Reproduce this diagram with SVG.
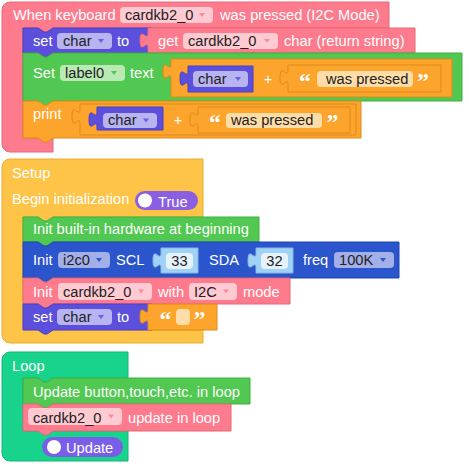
<svg xmlns="http://www.w3.org/2000/svg" width="469" height="468" viewBox="0 0 469 468">
<style>
.pk{fill:#FE7B8D;stroke:#E5687A;stroke-width:1}
.pu{fill:#5B4FDB;stroke:#4B40C2;stroke-width:1}
.gr{fill:#51C851;stroke:#40B040;stroke-width:1}
.or{fill:#FCA42B;stroke:#DE8B1C;stroke-width:1}
.ye{fill:#FEC447;stroke:#E6AC35;stroke-width:1}
.bl{fill:#2B55CC;stroke:#1F45AE;stroke-width:1}
.te{fill:#18D38B;stroke:#10B877;stroke-width:1}
.lb{fill:#A0D2F5;stroke:#86B9DD;stroke-width:1}
.t{font-family:"Liberation Sans",Arial,sans-serif;font-size:14.67px;fill:#fff}
.d{font-family:"Liberation Sans",Arial,sans-serif;font-size:14.67px;fill:#222}
.q{font-family:"Liberation Serif","Times New Roman",serif;font-size:24px;font-weight:bold;fill:#fff}
.ppk{fill:#FFCAD2}
.ppu{fill:#B8B3F1}
.pgr{fill:#B9EAB5}
.por{fill:#FFDDA8}
.pbl{fill:#A2AFE8}
.pnum{fill:#E6F3FC}
.apk{fill:#F3909F}
.apu{fill:#6A60DF}
.agr{fill:#51C851}
.abl{fill:#2B55CC}
.tog{fill:#8B5FE2}
.tog2{fill:#7B5EE8}
</style>

<!-- Event block: When keyboard ... was pressed -->
<g id="event_keyboard">
<path class="pk" d="M2,10 a8,8 0 0 1 8,-8 H389 V28 H53 l-6,4 -3,0 -6,-4 H23 V138 H53 V152 H10 a8,8 0 0 1 -8,-8 Z"/>
<text class="t" x="13" y="20">When keyboard</text>
<rect class="ppk" x="120" y="7" width="93" height="16" rx="4"/>
<text class="d" x="125" y="20">cardkb2_0</text>
<polygon class="apk" points="199,13 205,13 202,17"/>
<text class="t" x="220" y="20">was pressed (I2C Mode)</text>
</g>

<g id="set_char_1">
<path class="pu" d="M23,28 H38 l6,4 3,0 6,-4 H152 V53 H53 l-6,4 -3,0 -6,-4 H23 Z"/>
<text class="t" x="33" y="45.5">set</text>
<rect class="ppu" x="57" y="33" width="55" height="16" rx="4"/>
<text class="d" x="63" y="45.5">char</text>
<polygon class="apu" points="98,39 104,39 101,43"/>
<text class="t" x="117" y="45.5">to</text>
</g>

<g id="get_char">
<path class="pk" d="M148,28 H415 V53 H148 V48 c0,-10 -8,8 -8,-7.5 s8,2.5 8,-7.5 Z"/>
<text class="t" x="158" y="45.5">get</text>
<rect class="ppk" x="183" y="33" width="95" height="16" rx="4"/>
<text class="d" x="188" y="45.5">cardkb2_0</text>
<polygon class="apk" points="264,39 270,39 267,43"/>
<text class="t" x="284" y="45.5">char (return string)</text>
</g>

<g id="set_label_text">
<path class="gr" d="M23,53 H38 l6,4 3,0 6,-4 H462 V101 H53 l-6,4 -3,0 -6,-4 H23 Z"/>
<text class="t" x="33" y="77.5">Set</text>
<rect class="pgr" x="60" y="65" width="65" height="16" rx="4"/>
<text class="d" x="65" y="77.5">label0</text>
<polygon class="agr" points="111,71 117,71 114,75"/>
<text class="t" x="130" y="77.5">text</text>
</g>

<g id="join_1">
<path class="or" d="M171,59 H452 V97 H171 V79 c0,-10 -8,8 -8,-7.5 s8,2.5 8,-7.5 Z"/>
<text class="t" x="268" y="84" text-anchor="middle">+</text>
</g>
<g id="var_char_1">
<path class="pu" d="M188,66 H253 V92 H188 V86 c0,-10 -8,8 -8,-7.5 s8,2.5 8,-7.5 Z"/>
<rect class="ppu" x="193" y="71" width="55" height="16" rx="4"/>
<text class="d" x="198" y="84">char</text>
<polygon class="apu" points="235,77 241,77 238,81"/>
</g>
<g id="text_was_pressed_1">
<path class="or" d="M288,65 H441 V92 H288 V85 c0,-10 -8,8 -8,-7.5 s8,2.5 8,-7.5 Z"/>
<text class="q" x="299" y="89">“</text>
<rect class="por" x="317" y="71" width="96" height="16" rx="4"/>
<text class="d" x="326" y="84">was pressed</text>
<text class="q" x="417" y="89">”</text>
</g>

<g id="print">
<path class="or" d="M23,101 H38 l6,4 3,0 6,-4 H361 V138 H53 l-6,4 -3,0 -6,-4 H23 Z"/>
<text class="t" x="33" y="118.5">print</text>
</g>
<g id="join_2">
<path class="or" d="M80,104 H356 V135 H80 V124 c0,-10 -8,8 -8,-7.5 s8,2.5 8,-7.5 Z"/>
<text class="t" x="178" y="125" text-anchor="middle">+</text>
</g>
<g id="var_char_2">
<path class="pu" d="M97,107 H163 V130 H97 V127 c0,-10 -8,8 -8,-7.5 s8,2.5 8,-7.5 Z"/>
<rect class="ppu" x="103" y="113" width="54" height="15" rx="4"/>
<text class="d" x="108" y="125">char</text>
<polygon class="apu" points="143,118.5 149,118.5 146,122.5"/>
</g>
<g id="text_was_pressed_2">
<path class="or" d="M198,107 H350 V133 H198 V127 c0,-10 -8,8 -8,-7.5 s8,2.5 8,-7.5 Z"/>
<text class="q" x="209" y="130">“</text>
<rect class="por" x="226" y="113" width="96" height="15" rx="4"/>
<text class="d" x="231" y="125">was pressed</text>
<text class="q" x="326.5" y="130">”</text>
</g>

<!-- Setup -->
<g id="setup">
<path class="ye" d="M2,167 a8,8 0 0 1 8,-8 H203 V217 H53 l-6,4 -3,0 -6,-4 H23 V330 H203 V343 H10 a8,8 0 0 1 -8,-8 Z"/>
<text class="t" x="12" y="178">Setup</text>
<text class="t" x="12" y="203.5">Begin initialization</text>
<rect class="tog" x="135" y="191" width="63" height="19" rx="9.5"/>
<circle cx="145" cy="200.5" r="7" fill="#fff"/>
<text class="t" x="158" y="206.5">True</text>
</g>

<g id="init_builtin">
<path class="gr" d="M23,217 H38 l6,4 3,0 6,-4 H259 V242 H53 l-6,4 -3,0 -6,-4 H23 Z"/>
<text class="t" x="33" y="233.5">Init built-in hardware at beginning</text>
</g>

<g id="init_i2c">
<path class="bl" d="M23,242 H38 l6,4 3,0 6,-4 H399 V278 H53 l-6,4 -3,0 -6,-4 H23 Z"/>
<text class="t" x="33" y="265">Init</text>
<rect class="pbl" x="58" y="252" width="52" height="16" rx="4"/>
<text class="d" x="63" y="265">i2c0</text>
<polygon class="abl" points="96,258 102,258 99,262"/>
<text class="t" x="116" y="265">SCL</text>
<text class="t" x="209" y="265">SDA</text>
<text class="t" x="303" y="265">freq</text>
<rect class="pbl" x="334" y="252" width="60" height="16" rx="4"/>
<text class="d" x="339" y="265">100K</text>
<polygon class="abl" points="380,258 386,258 383,262"/>
</g>
<g id="num_33">
<path class="lb" d="M161,248 H198 V273 H161 V268 c0,-10 -8,8 -8,-7.5 s8,2.5 8,-7.5 Z"/>
<rect class="pnum" x="166" y="253" width="27" height="16" rx="4"/>
<text class="d" x="179.5" y="266" text-anchor="middle">33</text>
</g>
<g id="num_32">
<path class="lb" d="M256,248 H293 V273 H256 V268 c0,-10 -8,8 -8,-7.5 s8,2.5 8,-7.5 Z"/>
<rect class="pnum" x="261" y="253" width="27" height="16" rx="4"/>
<text class="d" x="274.5" y="266" text-anchor="middle">32</text>
</g>

<g id="init_cardkb">
<path class="pk" d="M23,278 H38 l6,4 3,0 6,-4 H290 V304 H53 l-6,4 -3,0 -6,-4 H23 Z"/>
<text class="t" x="33" y="297">Init</text>
<rect class="ppk" x="58" y="283" width="94" height="17" rx="4"/>
<text class="d" x="63" y="297">cardkb2_0</text>
<polygon class="apk" points="138,289.5 144,289.5 141,293.5"/>
<text class="t" x="158" y="297">with</text>
<rect class="ppk" x="189" y="283" width="48" height="17" rx="4"/>
<text class="d" x="194" y="297">I2C</text>
<polygon class="apk" points="223,289.5 229,289.5 226,293.5"/>
<text class="t" x="243" y="297">mode</text>
</g>

<g id="set_char_2">
<path class="pu" d="M23,304 H38 l6,4 3,0 6,-4 H152 V330 H53 l-6,4 -3,0 -6,-4 H23 Z"/>
<text class="t" x="33" y="322">set</text>
<rect class="ppu" x="57" y="309" width="55" height="16" rx="4"/>
<text class="d" x="63" y="322">char</text>
<polygon class="apu" points="98,315 104,315 101,319"/>
<text class="t" x="117" y="322">to</text>
</g>
<g id="text_empty">
<path class="or" d="M148,304 H217 V330 H148 V324 c0,-10 -8,8 -8,-7.5 s8,2.5 8,-7.5 Z"/>
<text class="q" x="159.5" y="327">“</text>
<rect class="por" x="176" y="309" width="14" height="16" rx="4"/>
<text class="q" x="193.5" y="327">”</text>
</g>

<!-- Loop -->
<g id="loop">
<path class="te" d="M2,360 a8,8 0 0 1 8,-8 H128 V378 H53 l-6,4 -3,0 -6,-4 H23 V431 H128 V461 H10 a8,8 0 0 1 -8,-8 Z"/>
<text class="t" x="12" y="371">Loop</text>
<rect class="tog2" x="42" y="437" width="81" height="20" rx="10"/>
<circle cx="54" cy="447" r="7" fill="#fff"/>
<text class="t" x="66" y="453">Update</text>
</g>

<g id="update_button">
<path class="gr" d="M23,378 H38 l6,4 3,0 6,-4 H250 V404 H53 l-6,4 -3,0 -6,-4 H23 Z"/>
<text class="t" x="33" y="396.5">Update button,touch,etc. in loop</text>
</g>

<g id="cardkb_update">
<path class="pk" d="M23,404 H38 l6,4 3,0 6,-4 H231 V431 H53 l-6,4 -3,0 -6,-4 H23 Z"/>
<rect class="ppk" x="28" y="408" width="94" height="17" rx="4"/>
<text class="d" x="33" y="423">cardkb2_0</text>
<polygon class="apk" points="108,414.5 114,414.5 111,418.5"/>
<text class="t" x="128" y="423">update in loop</text>
</g>

<g id="connectors"></g>
</svg>
